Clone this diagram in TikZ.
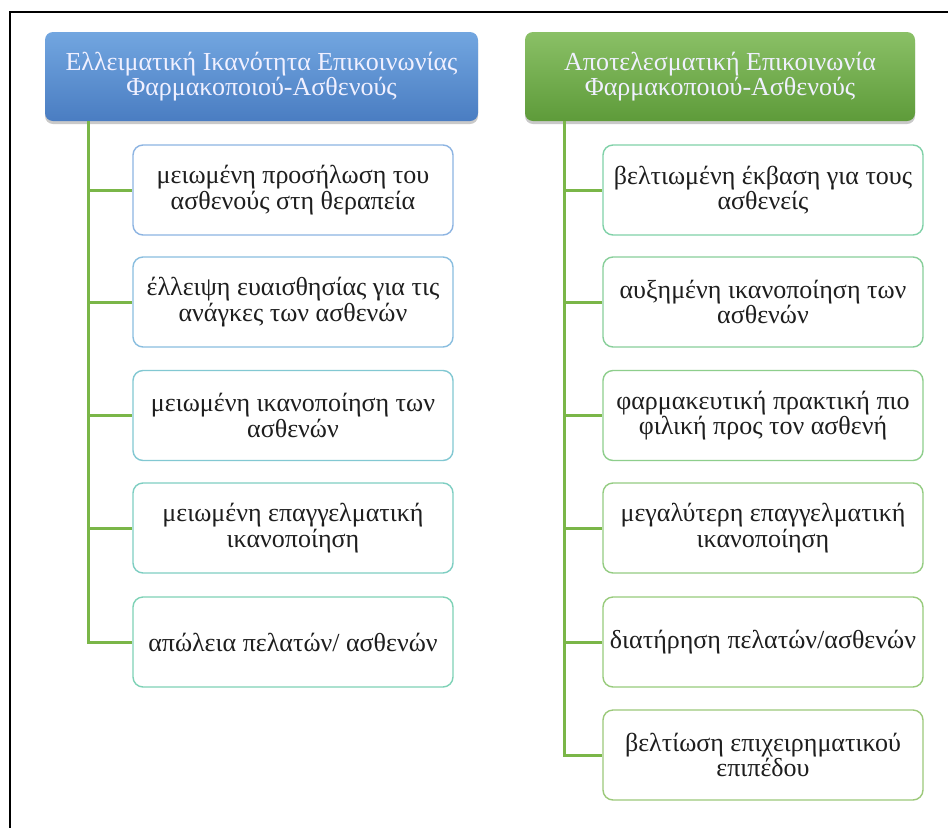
\documentclass[tikz,border=0pt]{standalone}
\usepackage{fontspec}
\setmainfont{Liberation Serif}
\usetikzlibrary{shadows}
\definecolor{hdbluetop}{HTML}{72A6E0}
\definecolor{hdbluebot}{HTML}{4A7DC2}
\definecolor{hdgreentop}{HTML}{8AC066}
\definecolor{hdgreenbot}{HTML}{5E9B3A}
\definecolor{trunk}{HTML}{7AB648}
\definecolor{txt}{HTML}{1E1E1E}
\definecolor{cA}{HTML}{8DB4E2}
\definecolor{cB}{HTML}{89BEDF}
\definecolor{cC}{HTML}{82C8D2}
\definecolor{cD}{HTML}{7ECEC2}
\definecolor{cE}{HTML}{7ED2B6}
\definecolor{cF}{HTML}{80D1A8}
\definecolor{cG}{HTML}{88CF9A}
\definecolor{cH}{HTML}{8ECE8C}
\definecolor{cI}{HTML}{94CC82}
\definecolor{cJ}{HTML}{98CB7C}
\definecolor{cK}{HTML}{9CC97A}
\tikzset{
  x=1pt, y=-1pt,
  header/.style={rounded corners=8pt, minimum height=89pt, align=center,
    text=white!94!blue, font=\fontsize{26}{25.5}\selectfont,
    drop shadow={shadow xshift=0pt, shadow yshift=-3pt, opacity=0.35, fill=black!60}},
  itembox/.style={draw, line width=1.4pt, fill=white, rounded corners=10pt,
    minimum width=320pt, minimum height=90pt, align=center, text=txt,
    font=\fontsize{26}{25.5}\selectfont},
  link/.style={draw=trunk, line width=3pt}
}
\begin{document}
\begin{tikzpicture}
\useasboundingbox (0,0) rectangle (948,828);
\fill[white] (0,0) rectangle (948,828);
\draw[line width=2.5pt, black] (948,12) -- (10,12) -- (10,828);

\node[header, top color=hdbluetop, bottom color=hdbluebot, minimum width=433pt] (L0) at (261.5,76.5)
  {Ελλειματική Ικανότητα Επικοινωνίας\\Φαρμακοποιού-Ασθενούς};
\node[header, top color=hdgreentop, bottom color=hdgreenbot, minimum width=390pt] (R0) at (720,76.5)
  {Αποτελεσματική Επικοινωνία\\Φαρμακοποιού-Ασθενούς};

\node[itembox, draw=cA] (L1) at (293,190) {μειωμένη προσήλωση του\\ασθενούς στη θεραπεία};
\node[itembox, draw=cB] (L2) at (293,302) {έλλειψη  ευαισθησίας για τις\\ανάγκες των ασθενών};
\node[itembox, draw=cC] (L3) at (293,415.5) {μειωμένη ικανοποίηση των\\ασθενών};
\node[itembox, draw=cD] (L4) at (293,528) {μειωμένη επαγγελματική\\ικανοποίηση};
\node[itembox, draw=cE] (L5) at (293,642) {απώλεια πελατών/ ασθενών};

\node[itembox, draw=cF] (R1) at (763,190) {βελτιωμένη έκβαση για τους\\ασθενείς};
\node[itembox, draw=cG] (R2) at (763,302) {αυξημένη ικανοποίηση των\\ασθενών};
\node[itembox, draw=cH] (R3) at (763,415.5) {φαρμακευτική πρακτική πιο\\φιλική προς τον ασθενή};
\node[itembox, draw=cI] (R4) at (763,528) {μεγαλύτερη επαγγελματική\\ικανοποίηση};
\node[itembox, draw=cJ] (R5) at (763,642) {διατήρηση πελατών/ασθενών};
\node[itembox, draw=cK] (R6) at (763,755) {βελτίωση επιχειρηματικού\\επιπέδου};

\coordinate (lt) at (88,121);
\coordinate (rt) at (564,121);
\draw[link] (lt) |- (L5.west);
\foreach \n in {L1,L2,L3,L4} \draw[link] (lt |- \n.west) -- (\n.west);
\draw[link] (rt) |- (R6.west);
\foreach \n in {R1,R2,R3,R4,R5} \draw[link] (rt |- \n.west) -- (\n.west);
\end{tikzpicture}
\end{document}
